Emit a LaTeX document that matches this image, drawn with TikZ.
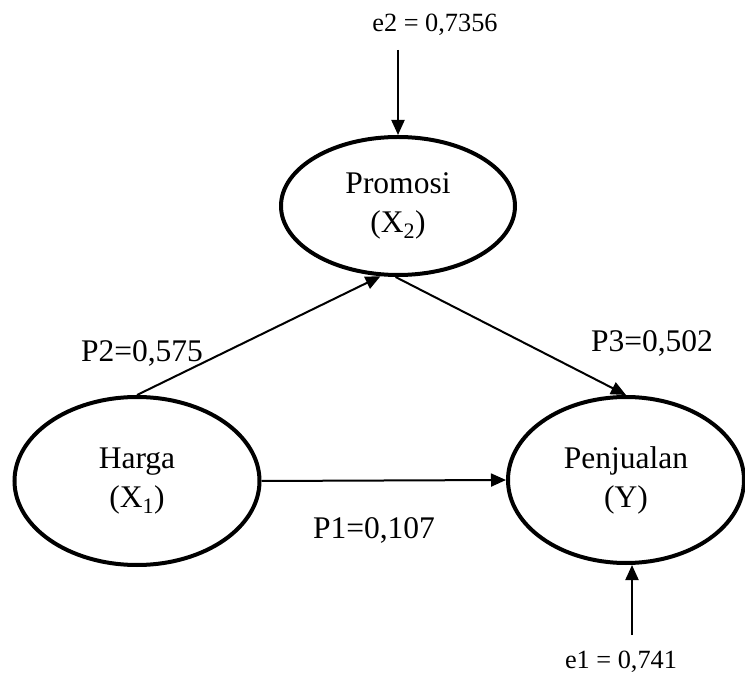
\documentclass[tikz,border=0pt]{standalone}
\usepackage{fontspec}
\setmainfont{Liberation Serif}
\usetikzlibrary{shapes.geometric,arrows.meta}
\begin{document}
\begin{tikzpicture}[x=1pt,y=-1pt,
  var/.style={draw,ellipse,line width=4pt,inner sep=0pt,align=center,
    font=\fontsize{31.5}{39}\selectfont},
  plabel/.style={inner sep=0pt,anchor=base,font=\fontsize{31.5}{38}\selectfont},
  elabel/.style={inner sep=0pt,anchor=base,font=\fontsize{26.3}{32}\selectfont},
  conn/.style={line width=2pt,-{Triangle[length=15pt,width=13pt]}}]
\useasboundingbox (0,0) rectangle (745,676);
\node[var,minimum width=234pt,minimum height=138pt] (prom) at (398,206) {Promosi\\(X\textsubscript{2})};
\node[var,minimum width=245pt,minimum height=168pt] (harga) at (137,481) {Harga\\(X\textsubscript{1})};
\node[var,minimum width=236pt,minimum height=166pt] (penj) at (626,480) {Penjualan\\(Y)};
\coordinate (e2s) at (398,50);
\coordinate (e1s) at (632,635);
\node[elabel] (e2l) at (435,32) {e2 = 0,7356};
\node[elabel] (e1l) at (621,668) {e1 = 0,741};
\node[plabel] (p2l) at (142,362) {P2=0,575};
\node[plabel] (p3l) at (652,352) {P3=0,502};
\node[plabel] (p1l) at (374,538) {P1=0,107};
\draw[conn] (e2s) -- (prom.north);
\draw[conn] (e1s) -- (e1s |- penj.south);
\draw[conn] (harga.north) -- (prom.256);
\draw[conn] (prom.268) -- (penj.north);
\draw[conn] (harga.east) -- (penj.west);
\end{tikzpicture}
\end{document}
